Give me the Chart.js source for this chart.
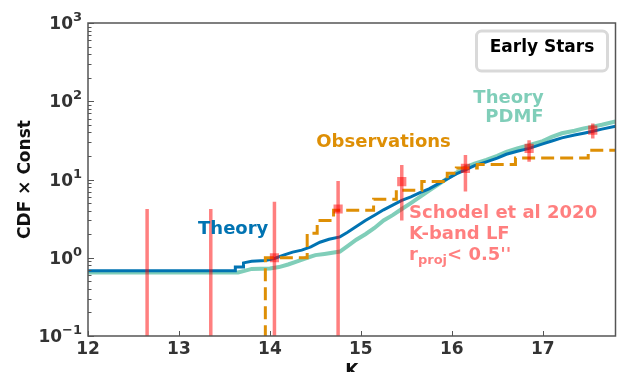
<!DOCTYPE html>
<html>
<head>
<meta charset="utf-8">
<script src="https://cdn.jsdelivr.net/npm/chart.js@4.4.1/dist/chart.umd.min.js"></script>
<style>
  html, body { margin: 0; padding: 0; background: #fff; }
  #wrap { width: 622px; height: 372px; overflow: hidden; }
</style>
</head>
<body>
<div id="wrap"><canvas id="cdfChart" width="622" height="382"></canvas></div>
<script>
// cumulative counts (CDF x Const) against K magnitude
var theoryK = [12.0, 13.62, 13.62, 13.71, 13.71, 13.80, 13.95, 14.05, 14.15, 14.25, 14.35, 14.45, 14.55, 14.65, 14.77,
  14.85, 14.95, 15.05, 15.15, 15.25, 15.35, 15.45, 15.55, 15.65, 15.75, 15.85, 15.95, 16.05, 16.15, 16.25,
  16.38, 16.5, 16.6, 16.72, 16.85, 17.0, 17.1, 17.21, 17.35, 17.45, 17.54, 17.65, 17.8];
var theoryCdf = [0.68, 0.68, 0.76, 0.76, 0.86, 0.9, 0.92, 0.98, 1.08, 1.18, 1.25, 1.38, 1.58, 1.72, 1.85,
  2.1, 2.5, 3.0, 3.5, 4.1, 4.7, 5.4, 6.0, 6.8, 7.6, 8.8, 10.2, 11.8, 13.3, 15.0,
  16.8, 18.8, 21, 23, 25, 28.5, 31, 34, 37, 39, 41, 44, 48];

var pdmfK = [12.0, 13.65, 13.72, 13.8, 14.0, 14.1, 14.2, 14.3, 14.41, 14.5, 14.6, 14.77, 14.85, 14.95, 15.05,
  15.15, 15.25, 15.35, 15.45, 15.55, 15.65, 15.75, 15.85, 15.95, 16.05, 16.15, 16.25, 16.38, 16.5, 16.6,
  16.72, 16.85, 17.0, 17.1, 17.21, 17.35, 17.45, 17.54, 17.65, 17.8];
var pdmfCdf = [0.65, 0.65, 0.68, 0.72, 0.73, 0.76, 0.82, 0.9, 1.0, 1.08, 1.12, 1.2, 1.4, 1.7, 2.0,
  2.4, 3.0, 3.5, 4.2, 5.0, 6.0, 7.2, 8.6, 10.3, 12.2, 14.3, 16.0, 17.8, 20, 22.5,
  25, 27.5, 31, 35, 39, 42, 45, 47, 50, 55];

// observed counts, a step function
var obsK = [13.95, 13.95, 14.41, 14.52, 14.7, 15.14, 15.39, 15.67, 15.95, 16.05, 16.28, 16.7, 17.5, 17.8];
var obsCdf = [0, 1.0, 2.05, 3.0, 4.06, 5.6, 7.3, 9.4, 12.0, 14.0, 15.5, 18.8, 23.7, 23.7];

// Schodel et al 2020 K-band LF, r_proj < 0.5''
var lfK = [12.65, 13.35, 14.05, 14.75, 15.45, 16.15, 16.85, 17.55];
var lfVal = [0, 0, 1.0, 4.2, 9.4, 13.9, 25, 42.7];
var lfLow = [0, 0, 0, 0, 3.0, 7.0, 16.8, 33.5];
var lfHigh = [4.2, 4.2, 5.2, 9.6, 15.3, 20.5, 31.8, 52];

var kTicks = [12, 13, 14, 15, 16, 17];
var decadeTicks = [0.1, 1, 10, 100, 1000];
var decadeExp = ['−1', '0', '1', '2', '3'];

var BLUE = '#0173B2';
var TEAL = 'rgba(2, 158, 115, 0.5)';
var ORANGE = '#DE8F05';
var RED = 'rgba(255, 0, 0, 0.5)';
var FONT = '"DejaVu Sans", sans-serif';
var FLOOR = 0.01; // zero counts sit below the log axis

function pairs(xs, ys) {
  return xs.map(function (x, i) { return { x: x, y: ys[i] }; });
}

function onLog(v) { return v > 0 ? v : FLOOR; }

function isDecade(v) {
  var l = Math.log10(v);
  return Math.abs(l - Math.round(l)) < 1e-9;
}

var datasets = [];

// error bars, one short line per magnitude bin
lfK.forEach(function (k, i) {
  datasets.push({
    data: [{ x: k, y: onLog(lfLow[i]) }, { x: k, y: lfHigh[i] }],
    borderColor: RED, borderWidth: 3.5, pointRadius: 0, order: 0, clip: 0
  });
});
datasets.push({
  data: pairs(lfK, lfVal.map(function (v) { return v > 0 ? v : null; })),
  showLine: false, pointStyle: 'rect', pointRadius: 6.5,
  pointBackgroundColor: RED, pointBorderWidth: 0, order: 0
});
datasets.push({
  data: pairs(obsK, obsCdf.map(onLog)), stepped: true, borderColor: ORANGE, borderWidth: 3,
  borderDash: [13, 6], pointRadius: 0, order: 1, clip: 0
});
datasets.push({
  data: pairs(theoryK, theoryCdf), borderColor: BLUE, borderWidth: 3,
  pointRadius: 0, order: 2, clip: 0
});
datasets.push({
  data: pairs(pdmfK, pdmfCdf), borderColor: TEAL, borderWidth: 4,
  pointRadius: 0, order: 3, clip: 0
});

// frame, inward tick marks, decade labels, text labels and the boxed title
var decorations = {
  id: 'decorations',
  afterDraw: function (chart) {
    var ctx = chart.ctx, a = chart.chartArea;
    var xs = chart.scales.x, ys = chart.scales.y;
    ctx.save();

    ctx.strokeStyle = '#555';
    ctx.lineWidth = 1;
    xs.ticks.forEach(function (t) {
      var px = Math.round(xs.getPixelForValue(t.value)) + 0.5;
      ctx.beginPath(); ctx.moveTo(px, a.bottom); ctx.lineTo(px, a.bottom - 5); ctx.stroke();
    });
    ys.ticks.forEach(function (t) {
      var py = Math.round(ys.getPixelForValue(t.value)) + 0.5;
      var len = isDecade(t.value) ? 6 : 3.5;
      ctx.beginPath(); ctx.moveTo(a.left, py); ctx.lineTo(a.left + len, py); ctx.stroke();
    });

    ctx.lineWidth = 1.5;
    ctx.strokeStyle = '#555';
    ctx.strokeRect(a.left, a.top, a.right - a.left, a.bottom - a.top);

    // 10^n labels with a raised exponent
    ctx.fillStyle = '#333';
    ctx.textBaseline = 'alphabetic';
    decadeTicks.forEach(function (d, i) {
      var py = ys.getPixelForValue(d) + 6;
      var right = a.left - 6;
      ctx.font = 'bold 13px ' + FONT;
      ctx.textAlign = 'right';
      ctx.fillText(decadeExp[i], right, py - 8);
      var ew = ctx.measureText(decadeExp[i]).width;
      ctx.font = 'bold 17px ' + FONT;
      ctx.fillText('10', right - ew, py);
    });

    ctx.font = 'bold 18px ' + FONT;
    ctx.textAlign = 'left';

    ctx.fillStyle = BLUE;
    ctx.fillText('Theory', xs.getPixelForValue(13.21), ys.getPixelForValue(2.0));

    ctx.fillStyle = ORANGE;
    ctx.fillText('Observations', xs.getPixelForValue(14.51), ys.getPixelForValue(26));

    ctx.fillStyle = TEAL;
    ctx.textAlign = 'right';
    var tx = xs.getPixelForValue(17.01), ty = ys.getPixelForValue(95);
    ctx.fillText('Theory', tx, ty);
    ctx.fillText('PDMF', tx, ty + 19);

    ctx.fillStyle = RED;
    ctx.textAlign = 'left';
    var sx = xs.getPixelForValue(15.53), sy = ys.getPixelForValue(3.22);
    ctx.fillText('Schodel et al 2020', sx, sy);
    ctx.fillText('K-band LF', sx, sy + 21);
    ctx.fillText('r', sx, sy + 42);
    var rx = sx + ctx.measureText('r').width;
    ctx.font = 'bold 13px ' + FONT;
    ctx.fillText('proj', rx, sy + 46);
    rx += ctx.measureText('proj').width;
    ctx.font = 'bold 18px ' + FONT;
    ctx.fillText("< 0.5''", rx, sy + 42);

    // boxed title in the upper right corner
    var bw = 131, bh = 40, bx = a.right - 8 - bw, by = a.top + 8, r = 5;
    ctx.beginPath();
    ctx.moveTo(bx + r, by);
    ctx.arcTo(bx + bw, by, bx + bw, by + bh, r);
    ctx.arcTo(bx + bw, by + bh, bx, by + bh, r);
    ctx.arcTo(bx, by + bh, bx, by, r);
    ctx.arcTo(bx, by, bx + bw, by, r);
    ctx.closePath();
    ctx.fillStyle = '#fff';
    ctx.fill();
    ctx.strokeStyle = '#d9d9d9';
    ctx.lineWidth = 3;
    ctx.stroke();
    ctx.fillStyle = '#000';
    ctx.textAlign = 'center';
    ctx.textBaseline = 'middle';
    ctx.font = 'bold 17px ' + FONT;
    ctx.fillText('Early Stars', bx + bw / 2, by + bh / 2 - 3);

    ctx.restore();
  }
};

var ctx = document.getElementById('cdfChart').getContext('2d');
new Chart(ctx, {
  type: 'line',
  data: { datasets: datasets },
  options: {
    responsive: false,
    animation: false,
    devicePixelRatio: 1,
    layout: { padding: { top: 23, right: 5, left: 0, bottom: 0 } },
    plugins: { legend: { display: false }, tooltip: { enabled: false } },
    scales: {
      x: {
        type: 'linear', min: 12, max: 17.8,
        grid: { display: false, drawTicks: false, tickLength: 0 },
        border: { display: false },
        afterBuildTicks: function (scale) {
          scale.ticks = kTicks.map(function (v) { return { value: v }; });
        },
        afterFit: function (scale) { scale.height = 46; },
        ticks: {
          autoSkip: false, maxRotation: 0, padding: 3, color: '#333',
          font: { family: FONT, size: 17, weight: 'bold' },
          callback: function (v) { return String(v); }
        },
        title: {
          display: true, text: 'K', color: '#111', padding: { top: 0, bottom: 0 },
          font: { family: FONT, size: 17, weight: 'bold' }
        }
      },
      y: {
        type: 'logarithmic', min: 0.1, max: 1000,
        grid: { display: false, drawTicks: false, tickLength: 0 },
        border: { display: false },
        afterBuildTicks: function (scale) {
          var ticks = [];
          for (var e = -1; e <= 3; e++) {
            for (var m = 1; m <= 9; m++) {
              var v = m * Math.pow(10, e);
              if (v > 1000) break;
              ticks.push({ value: v, major: m === 1 });
            }
          }
          scale.ticks = ticks;
        },
        afterFit: function (scale) { scale.width = 88; },
        ticks: { autoSkip: false, callback: function () { return ''; } },
        title: {
          display: true, text: 'CDF × Const', color: '#111', padding: { top: 15, bottom: 0 },
          font: { family: FONT, size: 17, weight: 'bold' }
        }
      }
    }
  },
  plugins: [decorations]
});
</script>
</body>
</html>
